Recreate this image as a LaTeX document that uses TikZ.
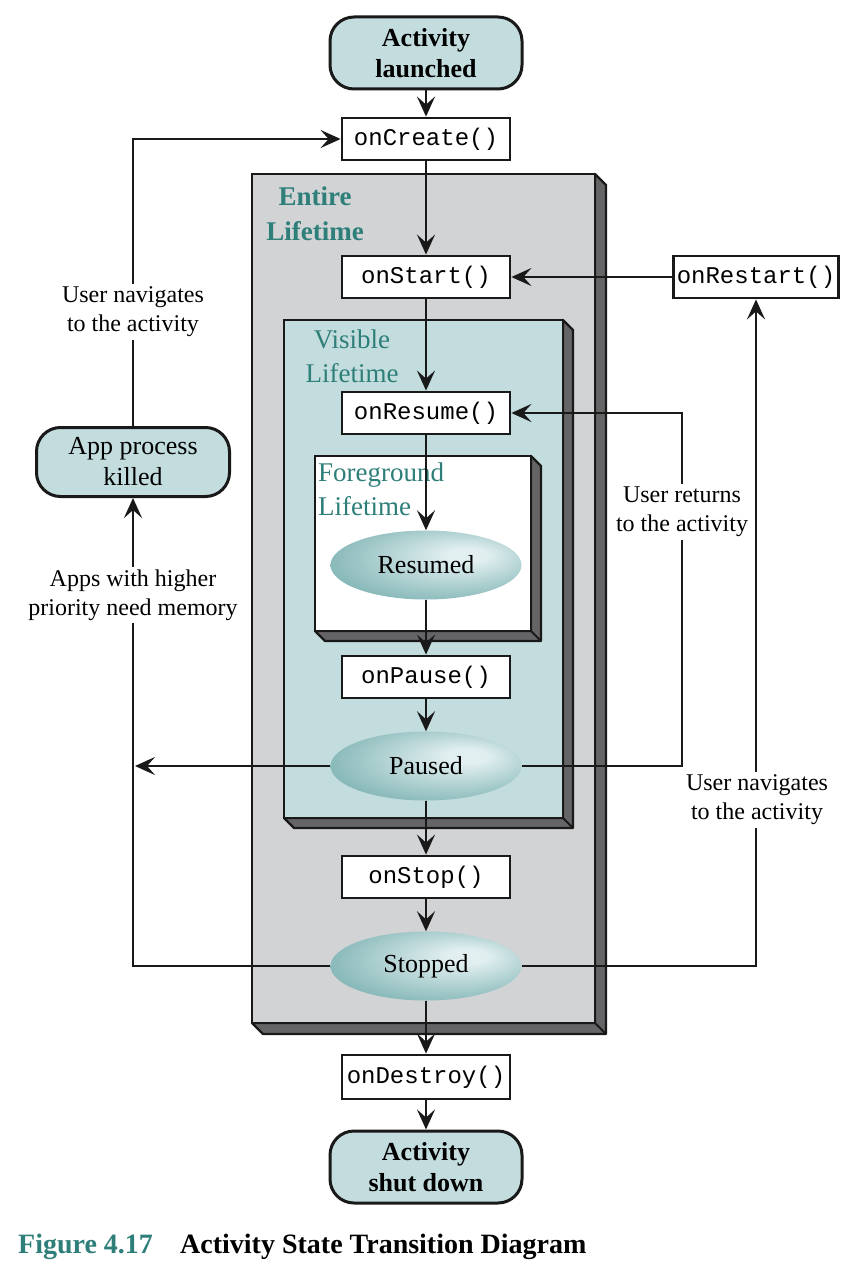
\documentclass[tikz,border=0pt]{standalone}
\usepackage{fontspec}
\setmainfont{Liberation Serif}
\setmonofont{Liberation Mono}
\usetikzlibrary{arrows.meta,shapes.geometric}
\definecolor{lteal}{HTML}{C3DCDE}
\definecolor{entiregray}{HTML}{D1D3D5}
\definecolor{sidegray}{HTML}{656567}
\definecolor{tealtxt}{HTML}{2E7E79}
\definecolor{ballhi}{HTML}{E2EFF0}
\definecolor{balldk}{HTML}{579B9B}
\pgfdeclareradialshading{tealball}{\pgfpoint{12bp}{8bp}}{color(0bp)=(ballhi); color(5bp)=(ballhi); color(44bp)=(balldk); color(50bp)=(balldk)}
\newcommand\depthbox[6]{%
  \filldraw[fill=sidegray,draw=black!90,line width=2.4pt,line join=round]
    (#3,#2) -- (#3+#5,#2+#5) -- (#3+#5,#4+#5) -- (#1+#5,#4+#5) -- (#1,#4) -- (#3,#4) -- cycle;
  \draw[black!90,line width=2pt] (#3,#4) -- (#3+#5,#4+#5);
  \filldraw[fill=#6,draw=black!90,line width=2.8pt] (#1,#2) rectangle (#3,#4);
}
\begin{document}
\begin{tikzpicture}[x=1pt,y=-1pt,
  every node/.style={inner sep=0pt},
  conn/.style={line width=2.6pt,draw=black!90,-{Stealth[length=20pt,width=18pt,inset=8pt]}},
  method/.style={draw=black!90,line width=2.8pt,fill=white,minimum width=168pt,minimum height=42pt,font=\ttfamily\fontsize{24}{28}\selectfont},
  term/.style={draw=black!90,line width=3pt,fill=lteal,rounded corners=24pt,minimum width=192pt,minimum height=72pt,align=center,font=\bfseries\fontsize{26}{31}\selectfont},
  stateell/.style={ellipse,shading=tealball,minimum width=191pt,minimum height=69pt,font=\fontsize{26}{31}\selectfont},
  lbl/.style={fill=white,align=center,inner sep=3pt,font=\fontsize{24}{29}\selectfont},
  boxtitle/.style={text=tealtxt,font=\fontsize{27}{34}\selectfont}
]
\useasboundingbox[fill=white] (0,0) rectangle (864,1268);

% containers
\depthbox{252}{174}{595}{1023}{11}{entiregray}
\depthbox{284}{320}{563}{818}{10}{lteal}
\depthbox{315}{456}{531}{631}{10}{white}

\node[boxtitle,font=\bfseries\fontsize{27}{35}\selectfont,align=center] (entireT) at (315,214) {Entire\\Lifetime};
\node[boxtitle,align=center] (visibleT) at (352,356) {Visible\\Lifetime};
\node[boxtitle,align=left,anchor=west] (foreT) at (318,489) {Foreground\\Lifetime};

% nodes
\node[term] (launch) at (426,53) {Activity\\launched};
\node[method] (create) at (426,139) {onCreate()};
\node[method] (start) at (426,277) {onStart()};
\node[method,minimum width=165pt] (restart) at (756,277) {onRestart()};
\node[method] (resume) at (426,413) {onResume()};
\node[stateell] (resumed) at (426,565) {Resumed};
\node[method] (pause) at (426,677) {onPause()};
\node[stateell] (paused) at (426,766) {Paused};
\node[method] (stop) at (426,877) {onStop()};
\node[stateell] (stopped) at (426,966) {Stopped};
\node[method,minimum height=44pt] (destroy) at (426,1077) {onDestroy()};
\node[term] (shut) at (426,1167) {Activity\\shut down};
\node[term,font=\fontsize{26}{31}\selectfont,minimum width=193pt,minimum height=69pt] (kill) at (133,462) {App process\\killed};

% main flow
\draw[conn] (launch) -- (create);
\draw[conn] (create) -- (start);
\draw[conn] (start) -- (resume);
\draw[conn] (resume) -- (resumed);
\draw[conn] (resumed) -- (pause);
\draw[conn] (pause) -- (paused);
\draw[conn] (paused) -- (stop);
\draw[conn] (stop) -- (stopped);
\draw[conn] (stopped) -- (destroy);
\draw[conn] (destroy) -- (shut);

% side loops
\draw[conn] (restart) -- (start);
\draw[conn] (kill.north) |- (create.west);
\draw[conn] (stopped.west) -| (kill.south);
\coordinate (pl) at (135,766);
\draw[conn] (paused.west) -- (pl);
\coordinate (pr) at (682,766);
\draw[conn] (paused.east) -- (pr) |- (resume.east);
\draw[conn] (stopped.east) -| (restart.south);

% labels
\node[lbl] (l1) at (133,312) {User navigates\\to the activity};
\node[lbl] (l2) at (133,595) {Apps with higher\\priority need memory};
\node[lbl] (l3) at (682,512) {User returns\\to the activity};
\node[lbl] (l4) at (757,800) {User navigates\\to the activity};

% caption
\node[anchor=base west,text=tealtxt,font=\bfseries\fontsize{28}{32}\selectfont] (fig) at (18,1253) {Figure 4.17};
\node[anchor=base west,font=\bfseries\fontsize{28}{32}\selectfont] (cap) at (180,1253) {Activity State Transition Diagram};
\end{tikzpicture}
\end{document}
